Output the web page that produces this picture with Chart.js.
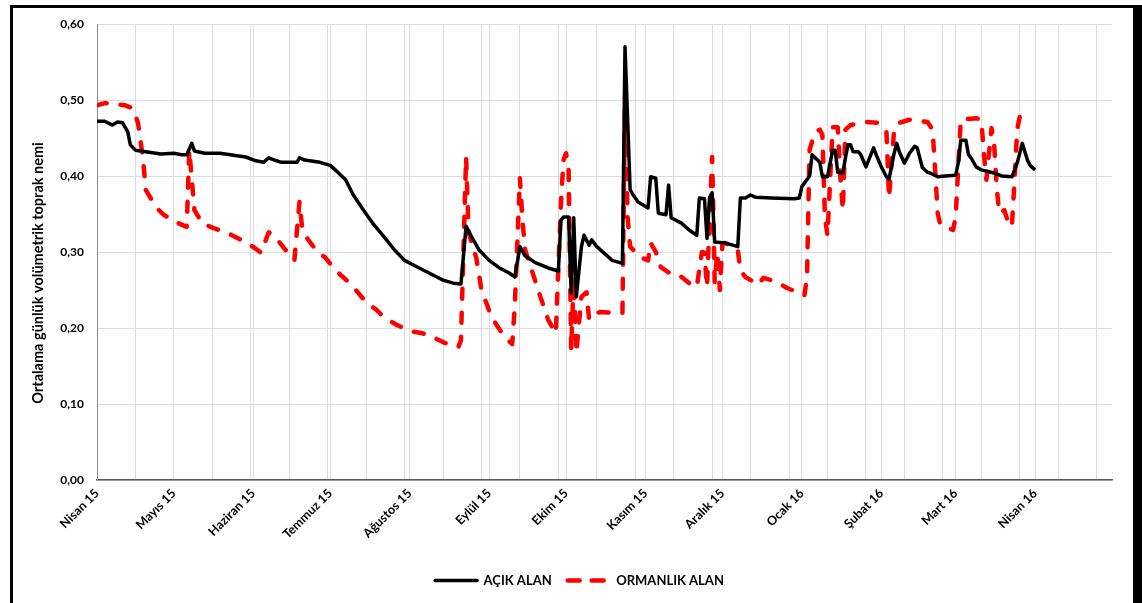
<!DOCTYPE html>
<html>
<head>
<meta charset="utf-8">
<script src="https://cdn.jsdelivr.net/npm/chart.js@4.4.0/dist/chart.umd.min.js"></script>
<style>
  html, body { margin: 0; padding: 0; background: #fff; overflow: hidden; }
  #wrap { position: relative; width: 1142px; height: 603px; }
  #frame {
    position: absolute; left: 10px; top: 5px; right: 0; bottom: -10px;
    border-left: 3px solid #000; border-top: 3px solid #000; border-right: 9px solid #000;
    pointer-events: none;
  }
  canvas { position: absolute; left: 0; top: 0; }
</style>
</head>
<body>
<div id="wrap">
  <canvas id="chart" width="1142" height="603"></canvas>
  <div id="frame"></div>
</div>
<script>
// days counted from 1 Nisan 2015
const monthDays = [0, 30, 61, 91, 122, 153, 183, 214, 244, 275, 306, 335, 366];
const monthLabels = ['Nisan 15', 'Mayıs 15', 'Haziran 15', 'Temmuz 15', 'Ağustos 15', 'Eylül 15',
  'Ekim 15', 'Kasım 15', 'Aralık 15', 'Ocak 16', 'Şubat 16', 'Mart 16', 'Nisan 16'];
const halfMonthDays = [0, 15, 30, 45, 60, 75, 90, 105, 120, 135, 150, 165, 180, 195, 210, 225,
  240, 255, 270, 285, 300, 315, 330, 345, 360, 375, 390];
const yTitle = 'Ortalama günlük volümetrik toprak nemi';

// AÇIK ALAN
const acikDays = [0, 3, 6, 8, 10, 12, 13, 15, 19, 25, 30, 33, 35, 37, 38, 42, 48, 52, 58, 62, 65, 67, 70, 72,
  78, 79, 81, 87, 91, 93, 97, 100, 104, 108, 112, 116, 120, 124, 128, 132, 135, 139, 142, 144, 146, 149,
  153, 157, 161, 163, 164, 165, 167, 171, 176, 180, 181, 182, 184, 185, 186, 187, 189, 190, 192, 193, 195,
  201, 204, 205, 206, 208, 209, 211, 215, 216, 218, 219, 222, 223, 224, 228, 231, 234, 235, 237, 238, 239,
  240, 241, 245, 250, 251, 253, 255, 257, 263, 272, 274, 275, 278, 279, 282, 283, 285, 287, 288, 289, 291,
  292, 293, 294, 295, 297, 298, 300, 303, 304, 306, 308, 309, 311, 312, 313, 315, 317, 319, 320, 322, 324,
  325, 328, 331, 335, 336, 337, 339, 340, 341, 343, 345, 350, 353, 357, 359, 361, 362, 363, 364, 366];
const acikValues = [0.472, 0.472, 0.467, 0.471, 0.470, 0.458, 0.441, 0.434, 0.432, 0.429, 0.430, 0.428,
  0.428, 0.443, 0.433, 0.430, 0.430, 0.428, 0.425, 0.420, 0.418, 0.424, 0.420, 0.418, 0.418, 0.424, 0.421,
  0.418, 0.414, 0.408, 0.395, 0.375, 0.355, 0.336, 0.320, 0.303, 0.289, 0.282, 0.275, 0.268, 0.263, 0.259,
  0.258, 0.334, 0.321, 0.303, 0.289, 0.279, 0.272, 0.267, 0.287, 0.307, 0.295, 0.286, 0.279, 0.275, 0.342,
  0.346, 0.346, 0.246, 0.345, 0.241, 0.307, 0.322, 0.309, 0.316, 0.307, 0.289, 0.286, 0.285, 0.570, 0.382,
  0.376, 0.366, 0.358, 0.399, 0.397, 0.351, 0.349, 0.388, 0.345, 0.338, 0.329, 0.322, 0.371, 0.370, 0.318,
  0.372, 0.378, 0.313, 0.312, 0.307, 0.371, 0.371, 0.375, 0.372, 0.371, 0.370, 0.371, 0.386, 0.400, 0.428,
  0.418, 0.399, 0.399, 0.434, 0.434, 0.405, 0.404, 0.424, 0.441, 0.441, 0.432, 0.432, 0.428, 0.412, 0.437,
  0.428, 0.412, 0.399, 0.396, 0.430, 0.443, 0.432, 0.417, 0.430, 0.439, 0.437, 0.411, 0.405, 0.404, 0.399,
  0.400, 0.401, 0.417, 0.447, 0.447, 0.428, 0.424, 0.412, 0.408, 0.404, 0.400, 0.399, 0.417, 0.443, 0.432,
  0.421, 0.414, 0.408];

// ORMANLIK ALAN
const ormanDays = [0, 3, 11, 14, 16, 18, 19, 23, 26, 31, 35, 36, 38, 41, 45, 51, 55, 60, 64, 67, 70, 73, 77,
  79, 80, 82, 86, 89, 93, 97, 101, 105, 109, 112, 117, 122, 127, 131, 136, 141, 142, 144, 145, 148, 150,
  154, 159, 162, 163, 165, 166, 167, 170, 173, 176, 179, 181, 182, 183, 184, 185, 186, 187, 189, 191, 192,
  196, 201, 205, 206, 207, 208, 212, 215, 216, 218, 220, 224, 227, 231, 234, 236, 237, 238, 239, 240, 241,
  242, 243, 244, 245, 250, 251, 253, 258, 260, 265, 269, 274, 276, 277, 278, 280, 282, 283, 284, 285, 287,
  289, 290, 291, 292, 294, 300, 305, 308, 309, 311, 313, 317, 324, 326, 327, 328, 329, 334, 335, 337, 343,
  345, 346, 347, 348, 349, 350, 351, 352, 354, 356, 357, 358, 359, 360, 362, 363];
const ormanValues = [0.493, 0.496, 0.493, 0.489, 0.470, 0.421, 0.382, 0.359, 0.349, 0.339, 0.333, 0.434,
  0.355, 0.338, 0.332, 0.325, 0.318, 0.309, 0.299, 0.326, 0.318, 0.305, 0.289, 0.366, 0.333, 0.318, 0.300,
  0.293, 0.276, 0.264, 0.250, 0.234, 0.224, 0.214, 0.204, 0.196, 0.193, 0.188, 0.180, 0.175, 0.184, 0.425,
  0.325, 0.292, 0.250, 0.214, 0.188, 0.179, 0.230, 0.397, 0.342, 0.303, 0.272, 0.241, 0.211, 0.193, 0.364,
  0.421, 0.430, 0.408, 0.171, 0.267, 0.167, 0.241, 0.247, 0.211, 0.221, 0.220, 0.220, 0.504, 0.346, 0.307,
  0.293, 0.289, 0.312, 0.300, 0.280, 0.271, 0.270, 0.259, 0.254, 0.300, 0.299, 0.254, 0.346, 0.425, 0.260,
  0.300, 0.250, 0.310, 0.312, 0.303, 0.276, 0.267, 0.257, 0.266, 0.261, 0.253, 0.246, 0.243, 0.267, 0.434,
  0.457, 0.461, 0.454, 0.346, 0.322, 0.464, 0.464, 0.400, 0.355, 0.461, 0.467, 0.471, 0.470, 0.458, 0.371,
  0.461, 0.470, 0.474, 0.471, 0.461, 0.408, 0.351, 0.336, 0.329, 0.346, 0.474, 0.476, 0.474, 0.430, 0.395,
  0.430, 0.463, 0.443, 0.386, 0.351, 0.355, 0.333, 0.338, 0.395, 0.461, 0.478, 0.480, 0.480];

const FONT = 'Lato';

function toPoints(days, values) {
  return days.map((d, i) => ({ x: d, y: values[i] }));
}

const gridDays = Array.from(new Set(halfMonthDays.concat(monthDays))).sort((a, b) => a - b);

const yTitlePlugin = {
  id: 'yTitle',
  afterDraw(chart) {
    const area = chart.chartArea;
    const ctx = chart.ctx;
    ctx.save();
    ctx.translate(area.left - 59, (area.top + area.bottom) / 2 + 21);
    ctx.rotate(-Math.PI / 2);
    ctx.font = 'bold 14.5px ' + FONT;
    ctx.fillStyle = '#000';
    ctx.textAlign = 'center';
    ctx.textBaseline = 'middle';
    ctx.fillText(yTitle, 0, 0);
    ctx.restore();
  }
};

const ctx = document.getElementById('chart').getContext('2d');
new Chart(ctx, {
  type: 'line',
  data: {
    datasets: [
      {
        label: 'AÇIK ALAN',
        data: toPoints(acikDays, acikValues),
        borderColor: '#000000',
        backgroundColor: 'rgba(0,0,0,0)',
        borderWidth: 3.5,
        pointRadius: 0,
        tension: 0,
        borderJoinStyle: 'round'
      },
      {
        label: 'ORMANLIK ALAN',
        data: toPoints(ormanDays, ormanValues),
        borderColor: '#ff0000',
        backgroundColor: 'rgba(0,0,0,0)',
        borderWidth: 4.5,
        borderDash: [10, 14],
        borderCapStyle: 'round',
        pointRadius: 0,
        tension: 0,
        borderJoinStyle: 'round'
      }
    ]
  },
  options: {
    responsive: false,
    animation: false,
    layout: { padding: { left: 47, right: 30, top: 24, bottom: 6 } },
    plugins: {
      legend: {
        position: 'bottom',
        labels: {
          color: '#000',
          font: { family: FONT, size: 13, weight: 'bold' },
          boxWidth: 42,
          boxHeight: 0,
          padding: 16
        }
      },
      tooltip: { enabled: false }
    },
    scales: {
      x: {
        type: 'linear',
        min: 0,
        max: 396,
        afterBuildTicks: (scale) => {
          scale.ticks = gridDays.map(v => ({ value: v }));
        },
        afterFit: (scale) => { scale.height = 78; },
        ticks: {
          autoSkip: false,
          minRotation: 45,
          maxRotation: 45,
          padding: 6,
          color: '#000',
          font: { family: FONT, size: 12.5, weight: 'bold' },
          callback: (value) => {
            const i = monthDays.indexOf(value);
            return i >= 0 ? monthLabels[i] : '';
          }
        },
        grid: { color: '#dcdcdc', lineWidth: 1, drawTicks: false },
        border: { display: true, color: '#595959', width: 1.5 }
      },
      y: {
        min: 0,
        max: 0.6,
        afterFit: (scale) => { scale.width = 50; },
        ticks: {
          stepSize: 0.1,
          padding: 13,
          color: '#000',
          font: { family: FONT, size: 12, weight: 'bold' },
          callback: (value) => value.toFixed(2).replace('.', ',')
        },
        grid: { color: '#dcdcdc', lineWidth: 1, drawTicks: false },
        border: { display: true, color: '#8c8c8c', width: 1 }
      }
    }
  },
  plugins: [yTitlePlugin]
});
</script>
</body>
</html>
